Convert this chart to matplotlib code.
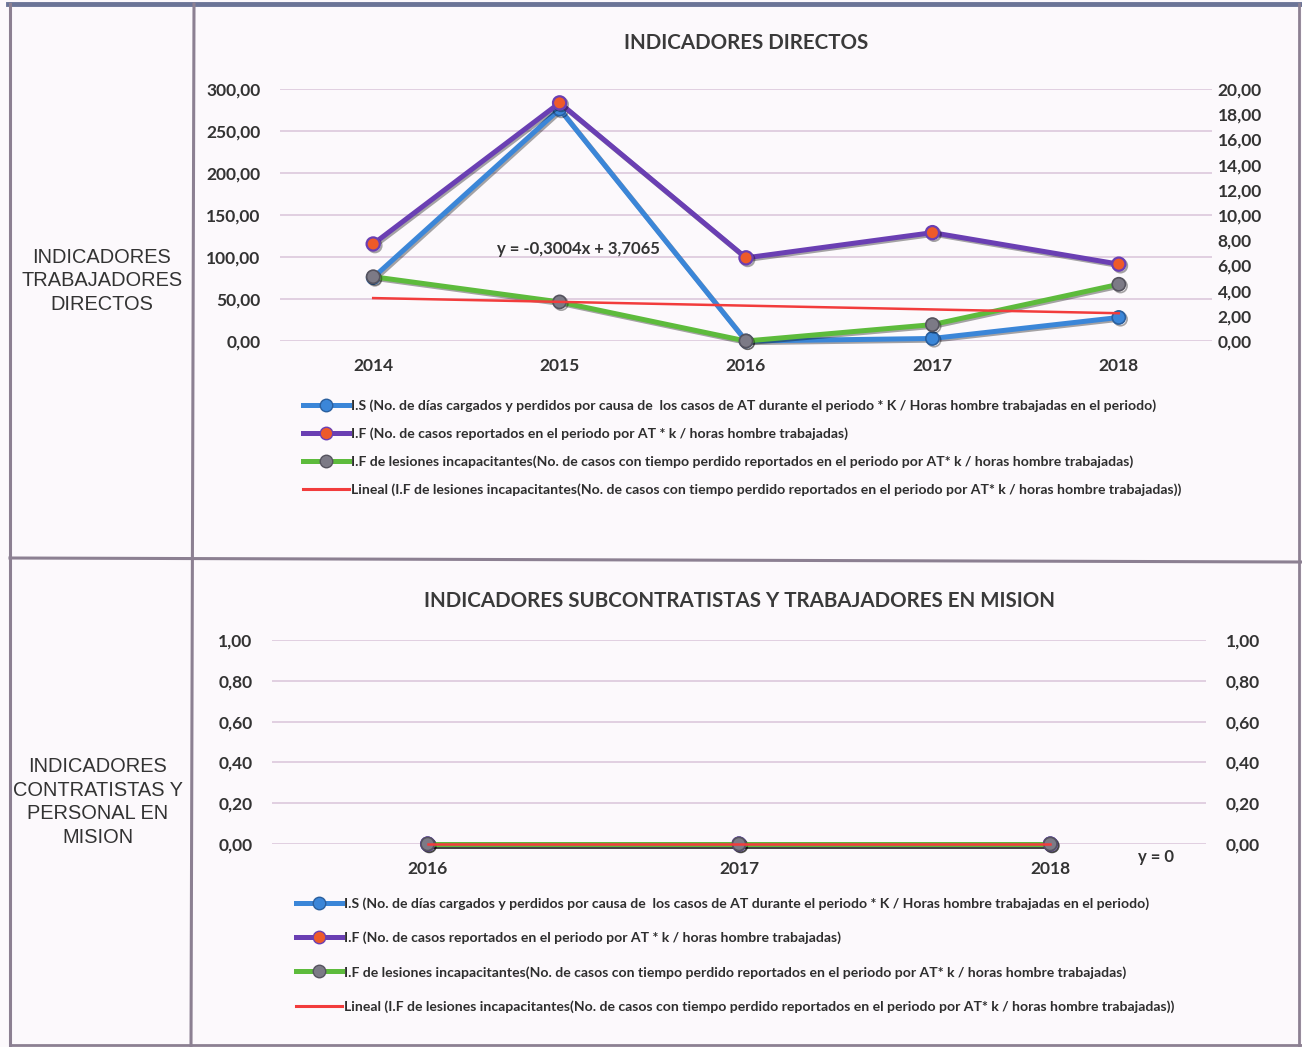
import matplotlib
matplotlib.use("Agg")
import matplotlib.pyplot as plt
import matplotlib.patheffects as pe
from matplotlib.lines import Line2D
from matplotlib.ticker import FuncFormatter, MultipleLocator

W, H = 1302, 1047
FONT = "Lato"
HEAD_FONT = "Liberation Sans"
TXT = "#333333"
GRID = "#dcc8dc"
RULE = "#8c8092"
BLUE, PURPLE, GREEN, RED = "#3b86d8", "#6a3fb3", "#5dbb3c", "#f23c3c"

# --- data -----------------------------------------------------------------
years_dir = ["2014", "2015", "2016", "2017", "2018"]
is_dir = [75.5, 276.0, 0.0, 3.0, 28.0]          # left axis
if_dir = [7.7, 18.9, 6.6, 8.6, 6.1]             # right axis
ifl_dir = [5.1, 3.1, 0.0, 1.3, 4.5]             # right axis
trend_dir = (-0.3004, 3.7065)                   # Excel linear trend (x = 1..n)

years_sub = ["2016", "2017", "2018"]
is_sub = [0.0, 0.0, 0.0]
if_sub = [0.0, 0.0, 0.0]
ifl_sub = [0.0, 0.0, 0.0]
trend_sub = (0.0, 0.0)

labels = [
    "I.S (No. de días cargados y perdidos por causa de  los casos de AT durante el periodo * K / Horas hombre trabajadas en el periodo)",
    "I.F (No. de casos reportados en el periodo por AT * k / horas hombre trabajadas)",
    "I.F de lesiones incapacitantes(No. de casos con tiempo perdido reportados en el periodo por AT* k / horas hombre trabajadas)",
    "Lineal (I.F de lesiones incapacitantes(No. de casos con tiempo perdido reportados en el periodo por AT* k / horas hombre trabajadas))",
]


def fx(x):
    return x / W


def fy(y):
    return 1 - y / H


def comma(v, _):
    return f"{v:.2f}".replace(".", ",")


shadow = [pe.SimpleLineShadow(offset=(1.2, -1.2), alpha=0.35), pe.Normal()]


def draw_panel(fig, rect, years, s_is, s_if, s_ifl, trend, lmax, lstep, rmax, rstep,
               lpad, rpad, title, title_y):
    ax = fig.add_axes(rect)
    ax2 = ax.twinx()
    x = list(range(len(years)))
    ax.plot(x, s_is, color=BLUE, lw=3.6, marker="o", ms=9.5, mfc=BLUE, mec="#2a5f9e",
            mew=1.2, zorder=3, clip_on=False, path_effects=shadow)
    ax2.plot(x, s_if, color=PURPLE, lw=3.6, marker="o", ms=9.5, mfc="#ee5a2a", mec=PURPLE,
             mew=1.6, zorder=3, clip_on=False, path_effects=shadow)
    ax2.plot(x, s_ifl, color=GREEN, lw=3.6, marker="o", ms=9.5, mfc="#7c7a86", mec="#55535e",
             mew=1.2, zorder=4, clip_on=False, path_effects=shadow)
    tr = [trend[0] * (i + 1) + trend[1] for i in x]
    ax2.plot(x, tr, color=RED, lw=1.8, zorder=5, clip_on=False)

    for a, top, step, pad in ((ax, lmax, lstep, lpad), (ax2, rmax, rstep, rpad)):
        a.set_ylim(0, top)
        a.yaxis.set_major_locator(MultipleLocator(step))
        a.yaxis.set_major_formatter(FuncFormatter(comma))
        a.tick_params(axis="y", length=0, pad=pad, labelsize=12.5, labelcolor=TXT)
        for s in a.spines.values():
            s.set_visible(False)
        a.set_facecolor("none")
    ax.set_xlim(-0.5, len(years) - 0.5)
    ax.set_xticks(x, years)
    ax.tick_params(axis="x", length=0, pad=12, labelsize=12.5, labelcolor=TXT)
    ax.grid(axis="y", color=GRID, lw=1.2)
    ax.set_axisbelow(True)
    for t in ax.get_xticklabels() + ax.get_yticklabels() + ax2.get_yticklabels():
        t.set_fontfamily(FONT)
        t.set_fontweight("bold")
    fig.text(rect[0] + rect[2] / 2, title_y, title, ha="center", va="center",
             fontsize=14.8, fontweight="bold", color="#3a3a3a", family=FONT)
    return ax, ax2


def add_legend(fig, anchor, spacing):
    handles = [
        Line2D([], [], color=BLUE, lw=3.6, marker="o", ms=9, mfc=BLUE, mec="#2a5f9e"),
        Line2D([], [], color=PURPLE, lw=3.6, marker="o", ms=9, mfc="#ee5a2a", mec=PURPLE),
        Line2D([], [], color=GREEN, lw=3.6, marker="o", ms=9, mfc="#7c7a86", mec="#55535e"),
        Line2D([], [], color=RED, lw=2.2),
    ]
    leg = fig.legend(handles, labels, loc="upper left", bbox_to_anchor=anchor,
                     frameon=False, handlelength=3.3, handletextpad=0.1,
                     labelspacing=spacing, borderaxespad=0, borderpad=0,
                     prop={"family": FONT, "size": 10.1, "weight": "bold"})
    for t in leg.get_texts():
        t.set_color("#2e2e2e")


fig = plt.figure(figsize=(W / 100, H / 100), dpi=100, facecolor="#fcf9fc")

# table rules
for (x0, y0, x1, y1, lw, c) in [
    (8, 4, W, 4, 3.5, "#6b7497"),
    (10, 4, 10, H, 2.2, RULE),
    (194, 4, 191, H, 2.2, RULE),
    (10, 558, W, 562, 2.2, RULE),
    (1299, 4, 1299, H, 2.0, RULE),
    (10, 1045, W, 1045, 2.0, RULE),
]:
    fig.add_artist(Line2D([fx(x0), fx(x1)], [fy(y0), fy(y1)], color=c, lw=lw))

fig.text(fx(102), fy(281), "INDICADORES\nTRABAJADORES\nDIRECTOS", ha="center", va="center",
         fontsize=14.4, color="#333333", family=HEAD_FONT, linespacing=1.3)
fig.text(fx(98), fy(802), "INDICADORES\nCONTRATISTAS Y\nPERSONAL EN\nMISION", ha="center",
         va="center", fontsize=14.4, color="#333333", family=HEAD_FONT, linespacing=1.3)

# top chart: direct workers
ax, ax2 = draw_panel(fig, [fx(280), fy(341), fx(1212) - fx(280), fy(89) - fy(341)],
                     years_dir, is_dir, if_dir, ifl_dir, trend_dir, 300, 50, 20, 2,
                     14, 4, "INDICADORES DIRECTOS", fy(43))
ax2.text(1.1, 7.3, "y = -0,3004x + 3,7065", ha="center", va="center", fontsize=12,
         fontweight="bold", color="#333333", family=FONT)
add_legend(fig, (fx(303), fy(399)), 1.1)

# bottom chart: subcontractors
bx, bx2 = draw_panel(fig, [fx(272), fy(844), fx(1206) - fx(272), fy(640) - fy(844)],
                     years_sub, is_sub, if_sub, ifl_sub, trend_sub, 1, 0.2, 1, 0.2,
                     14, 14, "INDICADORES SUBCONTRATISTAS Y TRABAJADORES EN MISION", fy(601))
bx2.text(2.34, -0.065, "y = 0", ha="center", va="center", fontsize=12, fontweight="bold",
         color="#333333", family=FONT, clip_on=False)
add_legend(fig, (fx(296), fy(897)), 1.55)

fig.savefig("out.png", dpi=100, facecolor=fig.get_facecolor())
